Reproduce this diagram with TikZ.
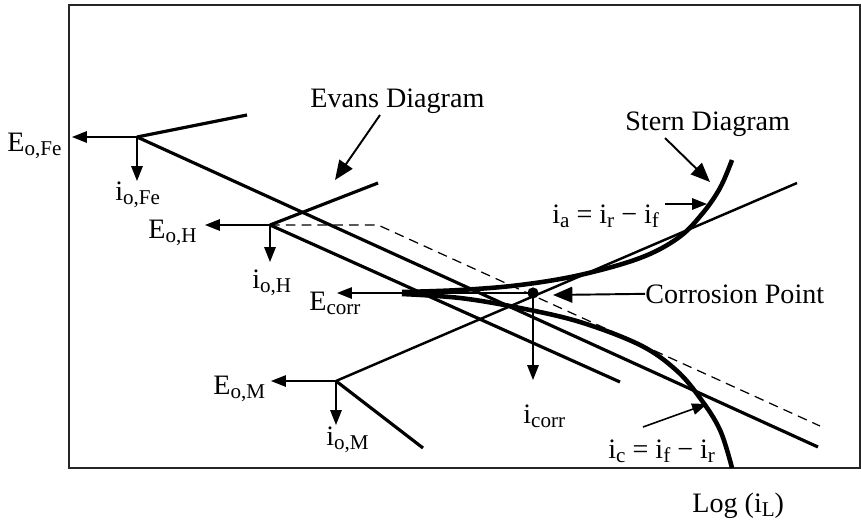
\documentclass[tikz,border=0pt]{standalone}
\usepackage{fontspec}
\setmainfont{Liberation Serif}
\usetikzlibrary{arrows.meta}
\newcommand{\sbs}[1]{\raisebox{-2.6pt}{\fontsize{12}{12}\selectfont #1}}

\begin{document}
\begin{tikzpicture}[x=0.02cm, y=-0.02cm,
  tafel/.style={line width=1.8pt},
  tafelThin/.style={line width=1.4pt},
  stern/.style={line width=2.6pt, line join=round},
  smallArrow/.style={line width=0.9pt, -{Triangle[length=8.5pt, width=6.5pt]}},
  bigArrow/.style={line width=1.1pt, -{Triangle[length=11pt, width=9pt]}},
  lbl/.style={font=\fontsize{16}{18}\selectfont, inner sep=0pt, anchor=base west}]

\useasboundingbox (0,0) rectangle (861,521);

% Cornice
\draw[line width=1.4pt, black!85] (69,5) rectangle (860,468);

% Punti di equilibrio
\coordinate (Fe) at (137,137);
\coordinate (H) at (270,225);
\coordinate (M) at (336,381);
\coordinate (corr) at (533,293);

% Punte delle frecce
\coordinate (FeW) at (72,137);
\coordinate (FeS) at (137,181);
\coordinate (HW) at (205,225);
\coordinate (HS) at (270,262);
\coordinate (MW) at (271,381);
\coordinate (MS) at (336,425);
\coordinate (corrW) at (337,293);
\coordinate (corrS) at (533,380);

% Rette di Tafel (Evans)
\draw[tafel] (Fe) -- (247,115);
\draw[tafel] (Fe) -- (818,447);
\draw[tafel] (H) -- (378,183);
\draw[tafel] (H) -- (620,382);
\draw[tafelThin] (M) -- (797,183);
\draw[tafel] (M) -- (423,448);

% Tratteggio
\draw[line width=0.7pt, dash pattern=on 5.5pt off 3.5pt] (H) -- (378,225) -- (820,426);

% Curva di Stern
\draw[stern] plot[smooth, tension=0.6] coordinates {(402,292) (460,290) (520,285) (580,275) (640,258) (678,238) (702,214) (720,188) (732,160)};
\draw[stern] plot[smooth, tension=0.6] coordinates {(402,294) (460,298) (520,308) (580,322) (640,345) (676,370) (700,398) (720,430) (732,468)};

% Frecce E e i
\draw[smallArrow] (Fe) -- (FeW);
\draw[smallArrow] (Fe) -- (FeS);
\draw[smallArrow] (H) -- (HW);
\draw[smallArrow] (H) -- (HS);
\draw[smallArrow] (M) -- (MW);
\draw[smallArrow] (M) -- (MS);
\draw[smallArrow] (corr) -- (corrW);
\draw[smallArrow] (corr) -- (corrS);
\fill (corr) circle[radius=3.2pt];

% Etichette
\node[lbl] (eFe) at (7,151) {E\sbs{o,Fe}};
\node[lbl] (iFe) at (115,200) {i\sbs{o,Fe}};
\node[lbl] (eH) at (148,238) {E\sbs{o,H}};
\node[lbl] (iH) at (252,288) {i\sbs{o,H}};
\node[lbl] (eCorr) at (309,310) {E\sbs{corr}};
\node[lbl] (eM) at (213,394) {E\sbs{o,M}};
\node[lbl] (iM) at (326,445) {i\sbs{o,M}};
\node[lbl] (iCorr) at (523,423) {i\sbs{corr}};
\node[lbl] (ia) at (552,223) {i\sbs{a} = i\sbs{r} − i\sbs{f}};
\node[lbl] (ic) at (608,458) {i\sbs{c} = i\sbs{f} − i\sbs{r}};
\node[lbl] (logi) at (692,512) {Log (i\sbs{L})};

% Richiami
\node[lbl] (evans) at (310,107) {Evans Diagram};
\node[lbl] (sternLbl) at (625,130) {Stern Diagram};
\node[lbl] (cp) at (645,303) {Corrosion Point};
\coordinate (evansA) at (380,115);
\coordinate (evansB) at (335,180);
\coordinate (sternA) at (665,138);
\coordinate (sternB) at (710,182);
\coordinate (iaA) at (665,204);
\coordinate (iaB) at (707,204);
\coordinate (cpB) at (553,295);
\coordinate (icA) at (643,427);
\coordinate (icB) at (707,404);
\draw[bigArrow] (evansA) -- (evansB);
\draw[bigArrow] (sternA) -- (sternB);
\draw[smallArrow] (iaA) -- (iaB);
\draw[bigArrow] (cp.west) -- (cpB);
\draw[smallArrow] (icA) -- (icB);
\end{tikzpicture}
\end{document}
